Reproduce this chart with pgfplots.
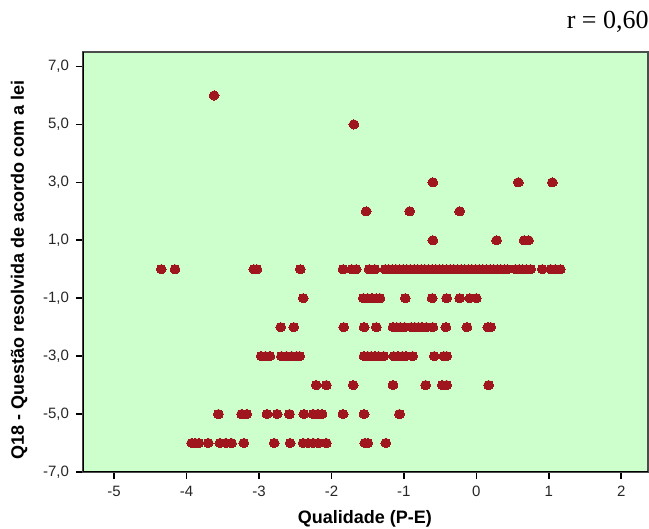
\documentclass[border=0pt]{standalone}
\usepackage{pgfplots}
\pgfplotsset{compat=1.18}
\usepackage{fontspec}
\setmainfont{Liberation Sans}
\newfontfamily\seriffont{Liberation Serif}
\definecolor{bggreen}{RGB}{204,255,204}
\definecolor{dotred}{RGB}{160,22,30}
\pgfplotstableread{
x y
-3.62 6
-1.69 5
-0.60 3
0.58 3
1.05 3
-1.52 2
-0.92 2
-0.23 2
-0.60 1
0.28 1
0.66 1
0.72 1
-4.35 0
-4.16 0
-3.07 0
-3.03 0
-2.43 0
-1.84 0
-1.72 0
-1.66 0
-1.48 0
-1.40 0
-1.26 0
-1.21 0
-1.16 0
-1.11 0
-1.06 0
-1.01 0
-0.96 0
-0.91 0
-0.86 0
-0.81 0
-0.76 0
-0.71 0
-0.66 0
-0.61 0
-0.56 0
-0.51 0
-0.46 0
-0.41 0
-0.36 0
-0.31 0
-0.26 0
-0.21 0
-0.16 0
-0.11 0
-0.06 0
-0.01 0
0.04 0
0.09 0
0.14 0
0.19 0
0.24 0
0.29 0
0.34 0
0.39 0
0.43 0
0.54 0
0.59 0
0.64 0
0.69 0
0.75 0
0.91 0
1.03 0
1.09 0
1.16 0
-2.39 -1
-1.56 -1
-1.50 -1
-1.44 -1
-1.38 -1
-1.33 -1
-0.98 -1
-0.61 -1
-0.41 -1
-0.23 -1
-0.09 -1
0.00 -1
-2.70 -2
-2.52 -2
-1.83 -2
-1.55 -2
-1.38 -2
-1.15 -2
-1.10 -2
-1.05 -2
-0.99 -2
-0.90 -2
-0.85 -2
-0.80 -2
-0.75 -2
-0.69 -2
-0.60 -2
-0.42 -2
-0.13 -2
0.16 -2
0.20 -2
-2.97 -3
-2.91 -3
-2.85 -3
-2.69 -3
-2.62 -3
-2.55 -3
-2.48 -3
-2.44 -3
-1.55 -3
-1.50 -3
-1.45 -3
-1.40 -3
-1.35 -3
-1.28 -3
-1.14 -3
-1.08 -3
-1.02 -3
-0.97 -3
-0.88 -3
-0.58 -3
-0.45 -3
-0.41 -3
-2.21 -4
-2.07 -4
-1.70 -4
-1.15 -4
-0.70 -4
-0.47 -4
-0.41 -4
0.17 -4
-3.56 -5
-3.24 -5
-3.17 -5
-2.89 -5
-2.75 -5
-2.58 -5
-2.38 -5
-2.25 -5
-2.19 -5
-2.13 -5
-1.84 -5
-1.55 -5
-1.06 -5
-3.93 -6
-3.88 -6
-3.83 -6
-3.70 -6
-3.54 -6
-3.46 -6
-3.38 -6
-3.21 -6
-2.79 -6
-2.57 -6
-2.39 -6
-2.32 -6
-2.25 -6
-2.18 -6
-2.07 -6
-1.54 -6
-1.50 -6
-1.25 -6
}\datatable
\begin{document}
\begin{tikzpicture}
\useasboundingbox (-41.5pt,-28.5pt) rectangle (283pt,236pt);
\begin{axis}[
  at={(0,0)}, anchor=south west,
  scale only axis, width=282.5pt, height=210pt,
  xmin=-5.43, xmax=2.37, ymin=-7, ymax=7.5,
  axis background/.style={fill=bggreen},
  axis line style={draw=gray!60!black, line width=1pt},
  xtick={-5,-4,...,2}, ytick={-7,-5,...,7},
  xtick pos=bottom, ytick pos=left,
  tick align=outside, major tick length=3.5pt,
  tick style={black, line width=0.8pt},
  /pgf/number format/assume math mode=true,
  tick label style={font=\fontsize{7.5}{8.5}\selectfont, text=black!85},
  yticklabel style={/pgf/number format/.cd, fixed, fixed zerofill, precision=1, use comma},
  xticklabel style={/pgf/number format/.cd, fixed, precision=0},
  xlabel={Qualidade (P-E)},
  ylabel={Q18 - Questão resolvida de acordo com a lei},
  label style={font=\bfseries\fontsize{9}{10}\selectfont},
  xlabel style={at={(axis description cs:0.499,-0.112)}, anchor=center},
  ylabel style={at={(axis description cs:-0.113,0.481)}, anchor=center},
]
\addplot[only marks, mark=*, mark size=2.3pt,
  mark options={fill=dotred, draw=dotred, line width=0pt, xscale=1.08}]
  table[x=x, y=y] {\datatable};
\draw[black, line width=1pt] (rel axis cs:0,1) -- (rel axis cs:0,0) -- (rel axis cs:1,0);
\end{axis}
\node[anchor=east, font=\seriffont\fontsize{13}{15}\selectfont, inner sep=0pt] at (283pt,225pt) {r = 0,60};
\end{tikzpicture}
\end{document}
